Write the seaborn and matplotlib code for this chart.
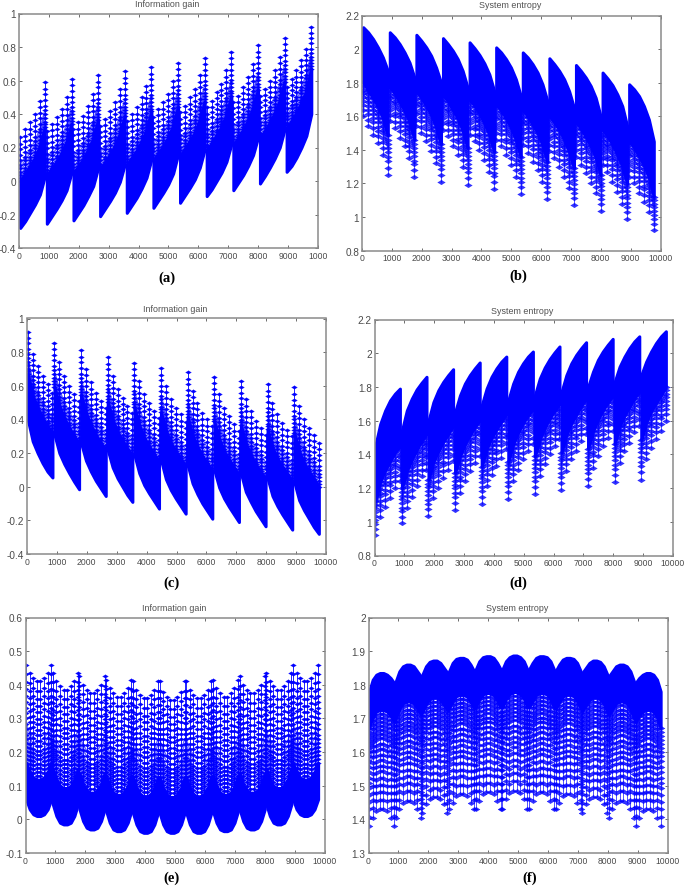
import numpy as np
import pandas as pd
import matplotlib
matplotlib.use("Agg")
import matplotlib.pyplot as plt
import seaborn as sns

# values, one row per big tooth, one column per visible stem
gain_peak = [
    [.26, .31, .35, .40, .48, .59],
    [.30, .34, .38, .43, .50, .61],
    [.31, .35, .39, .45, .52, .63],
    [.33, .37, .42, .47, .55, .655],
    [.36, .40, .44, .50, .57, .68],
    [.385, .43, .47, .52, .60, .705],
    [.41, .45, .50, .55, .63, .735],
    [.44, .48, .53, .58, .66, .77],
    [.47, .51, .56, .62, .70, .81],
    [.51, .55, .60, .66, .74, .855],
    [.56, .61, .66, .72, .79, .92],
]
gain_floor = [
    [-.28, -.24, -.19, -.14, -.08, .03],
    [-.255, -.21, -.165, -.115, -.055, .05],
    [-.235, -.19, -.145, -.09, -.03, .08],
    [-.21, -.165, -.12, -.07, -.005, .10],
    [-.19, -.145, -.10, -.045, .02, .13],
    [-.16, -.115, -.07, -.02, .045, .16],
    [-.13, -.085, -.04, .01, .08, .19],
    [-.09, -.05, 0, .05, .115, .22],
    [-.055, -.01, .035, .09, .155, .26],
    [-.015, .03, .08, .135, .20, .31],
    [.055, .09, .14, .20, .27, .40],
]
entropy_roof = [
    [2.13, 2.10, 2.06, 2.01, 1.95, 1.87],
    [2.10, 2.07, 2.03, 1.98, 1.92, 1.83],
    [2.085, 2.05, 2.01, 1.96, 1.89, 1.80],
    [2.065, 2.03, 1.99, 1.94, 1.87, 1.77],
    [2.04, 2.005, 1.965, 1.915, 1.85, 1.75],
    [2.01, 1.98, 1.94, 1.89, 1.82, 1.72],
    [1.98, 1.95, 1.91, 1.86, 1.79, 1.69],
    [1.945, 1.91, 1.87, 1.82, 1.75, 1.65],
    [1.905, 1.87, 1.83, 1.78, 1.71, 1.60],
    [1.86, 1.825, 1.785, 1.73, 1.66, 1.54],
    [1.79, 1.76, 1.72, 1.66, 1.58, 1.45],
]
entropy_tip = [
    [1.60, 1.54, 1.49, 1.44, 1.37, 1.25],
    [1.57, 1.53, 1.47, 1.42, 1.35, 1.235],
    [1.54, 1.50, 1.45, 1.39, 1.32, 1.21],
    [1.52, 1.48, 1.42, 1.37, 1.30, 1.19],
    [1.49, 1.45, 1.40, 1.34, 1.27, 1.165],
    [1.46, 1.42, 1.37, 1.31, 1.24, 1.135],
    [1.43, 1.38, 1.33, 1.28, 1.21, 1.105],
    [1.39, 1.35, 1.30, 1.24, 1.17, 1.07],
    [1.36, 1.31, 1.26, 1.20, 1.14, 1.035],
    [1.31, 1.27, 1.21, 1.15, 1.08, .99],
    [1.24, 1.20, 1.14, 1.09, 1.03, .92],
]
flat_gain_peak = [
    [.46, .435, .42, .41, .41, .42, .435, .46],
    [.435, .41, .395, .385, .385, .395, .41, .435],
    [.425, .40, .385, .375, .375, .385, .40, .425],
    [.415, .39, .375, .365, .365, .375, .39, .415],
    [.41, .385, .37, .36, .36, .37, .385, .41],
    [.41, .38, .365, .355, .355, .365, .38, .41],
    [.41, .385, .37, .36, .36, .37, .385, .41],
    [.415, .39, .375, .365, .365, .375, .39, .415],
    [.425, .40, .385, .375, .375, .385, .40, .425],
    [.435, .41, .395, .385, .385, .395, .41, .435],
    [.46, .435, .42, .41, .41, .42, .435, .46],
]
flat_gain_floor = [
    [.06, .03, .015, .01, .01, .015, .03, .06],
    [.045, .01, -.01, -.015, -.015, -.01, .01, .045],
    [.03, -.005, -.025, -.03, -.03, -.025, -.005, .03],
    [.025, -.01, -.03, -.035, -.035, -.03, -.01, .025],
    [.02, -.015, -.035, -.04, -.04, -.035, -.015, .02],
    [.02, -.015, -.035, -.04, -.04, -.035, -.015, .02],
    [.02, -.015, -.035, -.04, -.04, -.035, -.015, .02],
    [.025, -.01, -.03, -.035, -.035, -.03, -.01, .025],
    [.03, -.005, -.025, -.03, -.03, -.025, -.005, .03],
    [.045, .01, -.01, -.015, -.015, -.01, .01, .045],
    [.06, .03, .015, .01, .01, .015, .03, .06],
]
flat_entropy_roof = [
    [1.78, 1.815, 1.83, 1.835, 1.835, 1.83, 1.82, 1.805],
    [1.81, 1.84, 1.855, 1.86, 1.86, 1.855, 1.84, 1.825],
    [1.83, 1.855, 1.868, 1.872, 1.872, 1.865, 1.85, 1.835],
    [1.84, 1.865, 1.877, 1.88, 1.88, 1.875, 1.86, 1.84],
    [1.845, 1.87, 1.882, 1.885, 1.885, 1.88, 1.865, 1.845],
    [1.845, 1.87, 1.882, 1.887, 1.887, 1.882, 1.87, 1.845],
    [1.845, 1.865, 1.88, 1.885, 1.885, 1.882, 1.87, 1.845],
    [1.84, 1.86, 1.875, 1.88, 1.88, 1.877, 1.865, 1.84],
    [1.835, 1.85, 1.865, 1.872, 1.872, 1.868, 1.855, 1.83],
    [1.825, 1.84, 1.855, 1.86, 1.86, 1.855, 1.84, 1.81],
    [1.805, 1.82, 1.83, 1.835, 1.835, 1.83, 1.815, 1.78],
]
flat_entropy_tip = [
    [1.38, 1.405, 1.425, 1.43, 1.43, 1.425, 1.405, 1.38],
    [1.405, 1.43, 1.45, 1.455, 1.455, 1.45, 1.43, 1.405],
    [1.42, 1.445, 1.46, 1.465, 1.465, 1.46, 1.445, 1.42],
    [1.43, 1.45, 1.47, 1.475, 1.475, 1.47, 1.45, 1.43],
    [1.43, 1.455, 1.475, 1.48, 1.48, 1.475, 1.455, 1.43],
    [1.43, 1.46, 1.478, 1.485, 1.485, 1.478, 1.46, 1.43],
    [1.43, 1.455, 1.475, 1.48, 1.48, 1.475, 1.455, 1.43],
    [1.43, 1.45, 1.47, 1.475, 1.475, 1.47, 1.45, 1.43],
    [1.42, 1.445, 1.46, 1.465, 1.465, 1.46, 1.445, 1.42],
    [1.405, 1.43, 1.45, 1.455, 1.455, 1.45, 1.43, 1.405],
    [1.38, 1.405, 1.425, 1.43, 1.43, 1.425, 1.405, 1.38],
]

tooth_starts = [0, 891, 1782, 2673, 3564, 4455, 5346, 6237, 7128, 8019, 8910]
stems_six = [40, 205, 370, 535, 700, 865]
stems_eight = [20, 140, 260, 380, 500, 620, 740, 860]

# where the marker rows sit on a stem, as a share of the way from solid end to tip
rows_gain = [.52, .55, .58, .62, .66, .70, .75, .81, .87, .93, 1]
rows_entropy = [.62, .66, .70, .74, .78, .83, .87, .93, 1]
rows_flat = [.27, .30, .33, .36, .39, .42, .45, .48, .52, .56, .60, .64, .68, .72, .77, .82, .87, .93, 1]

xtick_vals = [0, 1000, 2000, 3000, 4000, 5000, 6000, 7000, 8000, 9000, 10000]
xtick_text = ["0", "1000", "2000", "3000", "4000", "5000", "6000", "7000", "8000", "9000", "10000"]
gain_ticks = [-.4, -.2, 0, .2, .4, .6, .8, 1]
gain_text = ["-0.4", "-0.2", "0", "0.2", "0.4", "0.6", "0.8", "1"]
entropy_ticks = [.8, 1, 1.2, 1.4, 1.6, 1.8, 2, 2.2]
entropy_text = ["0.8", "1", "1.2", "1.4", "1.6", "1.8", "2", "2.2"]
flat_gain_ticks = [-.1, 0, .1, .2, .3, .4, .5, .6]
flat_gain_text = ["-0.1", "0", "0.1", "0.2", "0.3", "0.4", "0.5", "0.6"]
flat_entropy_ticks = [1.3, 1.4, 1.5, 1.6, 1.7, 1.8, 1.9, 2]
flat_entropy_text = ["1.3", "1.4", "1.5", "1.6", "1.7", "1.8", "1.9", "2"]

W, H = 685, 887

# star pulled sideways, the samples smear the markers horizontally in the original
wide_star = [(-1, 0), (-.45, .3), (0, .62), (.45, .3), (1, 0), (.45, -.3), (0, -.62), (-.45, -.3), (-1, 0)]

sns.set_style("white")
plt.rcParams['font.family'] = ['Liberation Sans', 'DejaVu Sans']


def add_panel(box, title, title_xy, solid, tip, stems, rows, band_rows, ylim, yticks, ylabels,
              size, fade, mirror=False, label=None, label_xy=None, last_x="10000"):
    left, right, top, bottom = box
    ax = fig.add_axes([left / W, 1 - bottom / H, (right - left) / W, (bottom - top) / H])

    stem_x = np.array(stems)
    records = []
    for t, start in enumerate(tooth_starts):
        xs = start + stem_x
        if mirror:
            xs = 9801 - xs
        lo = np.array(solid[t])
        hi = np.array(tip[t])
        ax.fill_between(xs, lo, lo + rows[0] * (hi - lo), color="#0000ff", lw=2.2, zorder=2)
        for s in range(len(xs)):
            for k, r in enumerate(rows):
                records.append((f"{t}-{s}", f"{t}-{k}", k, xs[s], lo[s] + r * (hi[s] - lo[s])))
    df = pd.DataFrame(records, columns=["stem", "row", "rank", "x", "y"])

    # low rows run together along the tooth
    sns.lineplot(data=df[df["rank"] < band_rows], x="x", y="y", units="row", estimator=None, ax=ax,
                 color="#0000ff", lw=1.0, alpha=0.6, zorder=2.5)
    sns.lineplot(data=df, x="x", y="y", units="stem", estimator=None, ax=ax, color="#0000ff",
                 lw=0.6, alpha=fade, marker=wide_star, markersize=size, markeredgewidth=0.3,
                 markeredgecolor="#0000ff", zorder=3)

    ax.set_xlim(0, 10000)
    ax.set_ylim(*ylim)
    ax.set_xticks(xtick_vals)
    ax.set_xticklabels(xtick_text[:-1] + [last_x], fontsize=6.2, color="#4a4a4a")
    ax.set_yticks(yticks)
    ax.set_yticklabels(ylabels, fontsize=7.2, color="#4a4a4a")
    ax.set_xlabel("")
    ax.set_ylabel("")
    ax.tick_params(direction="in", top=True, right=True, bottom=True, left=True,
                   length=2.2, width=0.6, color="#555555", pad=2)
    for sp in ax.spines.values():
        sp.set_color("#8a8a8a")
        sp.set_linewidth(1.1)
        sp.set_zorder(5)

    fig.text(title_xy[0] / W, 1 - title_xy[1] / H, title, ha="center", va="center",
             fontsize=6.4, color="#505050")
    fig.text(label_xy[0] / W, 1 - label_xy[1] / H, label, ha="center", va="center",
             fontsize=10.5, fontweight="bold", family="Liberation Serif", color="black")
    return ax


fig = plt.figure(figsize=(W / 100, H / 100), dpi=100)

add_panel((19, 318, 14.5, 249), "Information gain", (167, 4.5), gain_floor, gain_peak,
          stems_six, rows_gain, 6, (-.4, 1), gain_ticks, gain_text, 4.0, 1,
          label="(a)", label_xy=(167, 278), last_x="1000")
add_panel((362, 660.5, 16.5, 251.5), "System entropy", (510, 6), entropy_roof, entropy_tip,
          stems_six, rows_entropy, 4, (.8, 2.2), entropy_ticks, entropy_text, 5.4, 0.8,
          label="(b)", label_xy=(518, 276))
add_panel((27, 326, 319.5, 555), "Information gain", (175, 310), gain_floor, gain_peak,
          stems_six, rows_gain, 6, (-.4, 1), gain_ticks, gain_text, 4.0, 1,
          mirror=True, label="(c)", label_xy=(172, 583))
add_panel((374.5, 673, 320.5, 556.5), "System entropy", (522, 311), entropy_roof, entropy_tip,
          stems_six, rows_entropy, 4, (.8, 2.2), entropy_ticks, entropy_text, 5.4, 0.8,
          mirror=True, label="(d)", label_xy=(518, 583))
add_panel((25.5, 325, 618.5, 854), "Information gain", (174, 609), flat_gain_floor, flat_gain_peak,
          stems_eight, rows_flat, 10, (-.1, .6), flat_gain_ticks, flat_gain_text, 4.0, 1,
          label="(e)", label_xy=(172, 878))
add_panel((368.5, 667.5, 618.5, 854), "System entropy", (517, 609), flat_entropy_roof, flat_entropy_tip,
          stems_eight, rows_flat, 10, (1.3, 2), flat_entropy_ticks, flat_entropy_text, 5.0, 0.8,
          label="(f)", label_xy=(530, 878))

plt.savefig("out.png", dpi=100)
